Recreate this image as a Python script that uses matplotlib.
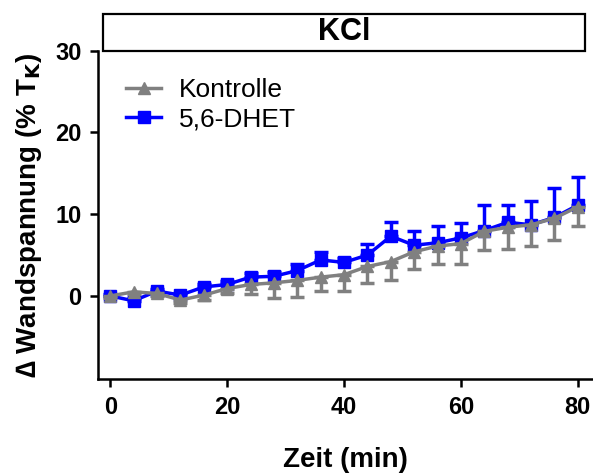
import numpy as np
import matplotlib
matplotlib.use("Agg")
from matplotlib import pyplot as plt
from matplotlib.patches import Rectangle
from matplotlib.lines import Line2D

plt.rcParams['font.family'] = ['Liberation Sans', 'DejaVu Sans']

# time points (min)
zeit = [0, 4, 8, 12, 16, 20, 24, 28, 32, 36, 40, 44, 48, 52, 56, 60, 64, 68, 72, 76, 80]

# Kontrolle: mean and lower error
kontrolle = [0, 0.5, 0.3, -0.5, 0.1, 0.9, 1.4, 1.6, 1.9, 2.3, 2.6, 3.6, 4.2, 5.4, 6.1, 6.4, 7.9, 8.4, 8.7, 9.5, 10.9]
kontrolle_err = [0.2, 0.3, 0.3, 0.4, 0.6, 0.5, 1.2, 1.8, 2.0, 1.7, 2.0, 2.0, 2.2, 2.1, 2.2, 2.5, 2.3, 2.7, 2.6, 2.7, 2.4]

# 5,6-DHET: mean and upper error
dhet = [0, -0.6, 0.6, 0.1, 1.1, 1.4, 2.3, 2.4, 3.1, 4.4, 4.1, 5.0, 7.3, 6.2, 6.5, 7.1, 8.0, 9.0, 8.7, 9.6, 11.1]
dhet_err = [0.2, 0.3, 0.3, 0.3, 0.4, 0.4, 0.5, 0.5, 0.8, 1.0, 0.6, 1.4, 1.8, 1.7, 2.1, 1.8, 3.1, 2.1, 2.9, 3.6, 3.5]

BLUE = '#0000FF'
GREY = '#808080'

fig = plt.figure(figsize=(5.93, 4.73), dpi=100)
ax = fig.add_axes([0.1653, 0.198, 0.8347, 0.695])

# blue first, grey drawn on top
zero = np.zeros(len(zeit))
ax.errorbar(zeit, dhet, yerr=[zero, dhet_err], color=BLUE, marker='s', markersize=8,
            linewidth=2.5, elinewidth=2.5, capsize=5, capthick=2.5, zorder=3)
ax.errorbar(zeit, kontrolle, yerr=[kontrolle_err, zero], color=GREY, marker='^', markersize=9,
            linewidth=2.5, elinewidth=2.5, capsize=5, capthick=2.5, zorder=4)

ax.set_xlim(-2.1, 82.6)
ax.set_ylim(-10.2, 30)
ax.set_xticks([0, 20, 40, 60, 80])
ax.set_yticks([0, 10, 20, 30])

for s in ['top', 'right']:
    ax.spines[s].set_visible(False)
for s in ['left', 'bottom']:
    ax.spines[s].set_linewidth(1.8)
ax.tick_params(direction='out', length=6, width=1.8, labelsize=17, pad=6)
for lab in ax.get_xticklabels() + ax.get_yticklabels():
    lab.set_fontweight('bold')

ax.set_xlabel('Zeit (min)', fontsize=20, fontweight='bold', labelpad=20)
ax.set_ylabel('∆ Wandspannung (% T$_\\mathbf{K}$)', fontsize=20, fontweight='bold', labelpad=8)

handles = [Line2D([], [], color=GREY, marker='^', markersize=9, linewidth=2.5),
           Line2D([], [], color=BLUE, marker='s', markersize=8, linewidth=2.5)]
ax.legend(handles, ['Kontrolle', '5,6-DHET'], loc='upper left', bbox_to_anchor=(0.008, 0.988),
          frameon=False, fontsize=19, handlelength=1.35, handletextpad=0.65, labelspacing=0.2)

# title box
fig.patches.append(Rectangle((0.1742, 0.8928), 0.8123, 0.0776, transform=fig.transFigure,
                             facecolor='white', edgecolor='black', linewidth=1.6))
fig.text(0.1742 + 0.8123 / 2, 0.8928 + 0.0776 / 2, 'KCl', ha='center', va='center',
         fontsize=22, fontweight='bold')

fig.savefig('out.png', dpi=100)
